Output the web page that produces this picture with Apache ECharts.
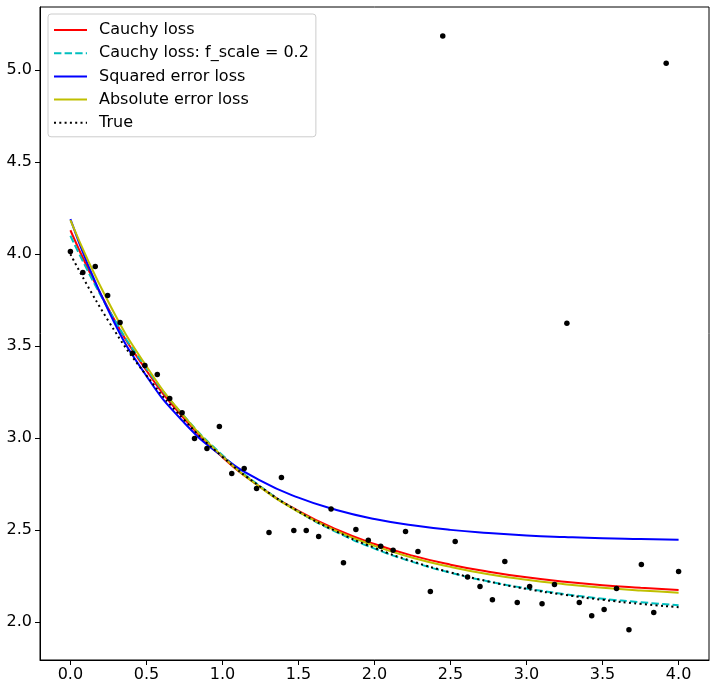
<!DOCTYPE html>
<html>
<head>
<meta charset="UTF-8" />
<title>Robust fit</title>
<script src="https://cdn.jsdelivr.net/npm/echarts@6/dist/echarts.min.js"></script>
<style>
html, body { margin:0; padding:0; background:#fff; }
#main { width:716px; height:688px; }
</style>
</head>
<body>
<div id="main"></div>
<script type="text/javascript">
// noisy samples
var tData = [0, 0.0816, 0.1633, 0.2449, 0.3265, 0.4082, 0.4898, 0.5714, 0.6531, 0.7347,
  0.8163, 0.898, 0.9796, 1.0612, 1.1429, 1.2245, 1.3061, 1.3878, 1.4694, 1.551,
  1.6327, 1.7143, 1.7959, 1.8776, 1.9592, 2.0408, 2.1224, 2.2041, 2.2857, 2.3673,
  2.449, 2.5306, 2.6122, 2.6939, 2.7755, 2.8571, 2.9388, 3.0204, 3.102, 3.1837,
  3.2653, 3.3469, 3.4286, 3.5102, 3.5918, 3.6735, 3.7551, 3.8367, 3.9184, 4.0];
var yData = [4.015, 3.90, 3.933, 3.776, 3.629, 3.462, 3.395, 3.346, 3.216, 3.138,
  2.998, 2.944, 3.064, 2.808, 2.835, 2.727, 2.488, 2.786, 2.498, 2.498,
  2.466, 2.616, 2.324, 2.504, 2.446, 2.413, 2.391, 2.493, 2.384, 2.167,
  5.185, 2.439, 2.246, 2.194, 2.123, 2.33, 2.107, 2.194, 2.10, 2.205,
  3.625, 2.107, 2.036, 2.069, 2.183, 1.96, 2.314, 2.053, 5.038, 2.276];

// fitted curves, read at t = 0, 0.25, ... 4
var tCurve = [0, 0.25, 0.5, 0.75, 1, 1.25, 1.5, 1.75, 2, 2.25, 2.5, 2.75, 3, 3.25, 3.5, 3.75, 4];
var cauchy = [4.130, 3.704, 3.368, 3.105, 2.897, 2.734, 2.605, 2.504, 2.425, 2.362, 2.313, 2.275, 2.244, 2.220, 2.201, 2.187, 2.175];
var cauchyScaled = [4.100, 3.701, 3.379, 3.118, 2.908, 2.738, 2.601, 2.490, 2.400, 2.328, 2.269, 2.222, 2.184, 2.153, 2.128, 2.109, 2.092];
var squared = [4.190, 3.694, 3.338, 3.083, 2.901, 2.770, 2.677, 2.610, 2.561, 2.527, 2.502, 2.485, 2.472, 2.463, 2.456, 2.452, 2.448];
var absolute = [4.185, 3.740, 3.391, 3.117, 2.902, 2.733, 2.600, 2.497, 2.415, 2.351, 2.301, 2.261, 2.231, 2.207, 2.187, 2.172, 2.161];
var trueCurve = [4.000, 3.637, 3.341, 3.098, 2.899, 2.736, 2.602, 2.493, 2.404, 2.331, 2.271, 2.222, 2.181, 2.149, 2.122, 2.100, 2.082];

var xTicks = [0, 0.5, 1, 1.5, 2, 2.5, 3, 3.5, 4];
var yTicks = [2, 2.5, 3, 3.5, 4, 4.5, 5];

function pairs(xs, ys) {
  return xs.map(function (x, i) { return [x, ys[i]]; });
}

var font = 'DejaVu Sans';

function lineSeries(name, ys, color, dash, z) {
  return {
    name: name,
    type: 'line',
    data: pairs(tCurve, ys),
    smooth: true,
    symbol: 'none',
    lineStyle: { color: color, width: 2, type: dash },
    itemStyle: { color: color },
    z: z,
    animation: false
  };
}

var myChart = echarts.init(document.getElementById('main'));
myChart.setOption({
  animation: false,
  grid: {
    left: 40, right: 7, top: 7, bottom: 28,
    show: true, borderColor: '#000', borderWidth: 1
  },
  legend: {
    left: 48, top: 14,
    orient: 'vertical',
    padding: [7, 7, 5, 5],
    itemGap: 5.2,
    itemWidth: 33,
    itemHeight: 14,
    borderColor: '#cccccc',
    borderWidth: 1,
    borderRadius: 3,
    backgroundColor: 'rgba(255,255,255,0.8)',
    itemStyle: { opacity: 0 },
    textStyle: { fontFamily: font, fontSize: 16, color: '#000', lineHeight: 18, padding: [0, 0, 0, 7] },
    data: ['Cauchy loss', 'Cauchy loss: f_scale = 0.2', 'Squared error loss', 'Absolute error loss', 'True']
  },
  xAxis: {
    type: 'value',
    min: -0.2, max: 4.2,
    splitLine: { show: false },
    axisLine: { show: true, onZero: false, lineStyle: { color: '#000', width: 1 } },
    axisTick: { show: true, length: 5, lineStyle: { color: '#000' }, customValues: xTicks },
    axisLabel: {
      color: '#000', fontFamily: font, fontSize: 16, margin: 7,
      customValues: xTicks,
      formatter: function (v) { return v.toFixed(1); }
    }
  },
  yAxis: {
    type: 'value',
    min: 1.795, max: 5.343,
    splitLine: { show: false },
    axisLine: { show: true, onZero: false, lineStyle: { color: '#000', width: 1 } },
    axisTick: { show: true, length: 5, lineStyle: { color: '#000' }, customValues: yTicks },
    axisLabel: {
      color: '#000', fontFamily: font, fontSize: 16, margin: 8,
      customValues: yTicks,
      formatter: function (v) { return v.toFixed(1); }
    }
  },
  series: [
    {
      name: 'data',
      type: 'scatter',
      data: pairs(tData, yData),
      symbolSize: 5.5,
      itemStyle: { color: '#000', opacity: 1 },
      z: 10
    },
    lineSeries('Cauchy loss', cauchy, '#ff0000', 'solid', 3),
    lineSeries('Cauchy loss: f_scale = 0.2', cauchyScaled, '#00bfbf', [7.4, 3.2], 4),
    lineSeries('Squared error loss', squared, '#0000ff', 'solid', 5),
    lineSeries('Absolute error loss', absolute, '#bfbf00', 'solid', 6),
    lineSeries('True', trueCurve, '#000000', [2, 3.3], 7)
  ]
});
</script>
</body>
</html>
